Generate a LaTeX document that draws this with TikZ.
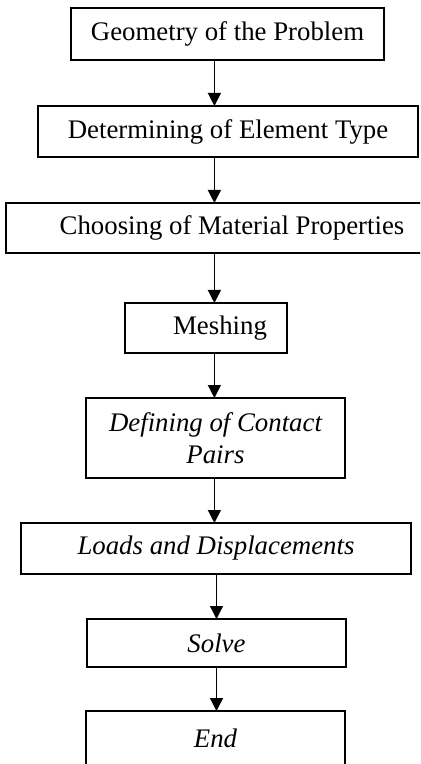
\documentclass[tikz,border=0pt]{standalone}
\usepackage{fontspec}
\setmainfont{Liberation Serif}
\usetikzlibrary{arrows.meta, positioning}
\tikzset{
    % Base Block Style
    process/.style={
        rectangle,
        draw=black,
        line width=0.8pt,
        align=center,
        inner sep=0pt,
        outer sep=0pt
    },
    % Specific Text Styles
    stepPlain/.style={process, font=\fontsize{13.4}{16}\selectfont},
    stepItalic/.style={process, font=\fontsize{13.4}{16}\selectfont\itshape},
    % Arrow Style
    arrow/.style={-{Triangle[width=6.5pt, length=6.5pt]}, line width=0.65pt}
}
\begin{document}
\begin{tikzpicture}[node distance=22.5pt]

    % --- Page frame ---
    \path[use as bounding box, clip] (0,0) rectangle (210pt,-382pt);
    \coordinate (axis) at (107.2pt,0);

    % --- Upper steps (upright text) ---
    \node (step1) [stepPlain, minimum width=156.5pt, minimum height=26pt] at (113.75pt,-17pt) {Geometry of the Problem};
    \node (step2) [stepPlain, minimum width=190pt, minimum height=25.5pt, below=23pt of step1, xshift=0.25pt] {Determining of Element Type};
    \node (step3) [stepPlain, minimum width=226pt, minimum height=25pt, below=23pt of step2, xshift=2pt] {Choosing of Material Properties};
    \node (step4) [stepPlain, minimum width=81pt, minimum height=25pt, below=25pt of step3, xshift=-13pt] {\hspace*{14pt}Meshing};

    % --- Lower steps (italic text) ---
    \node (step5) [stepItalic, minimum width=129.5pt, minimum height=40pt, below=of step4, xshift=4.75pt] {Defining of Contact\\Pairs};
    \node (step6) [stepItalic, minimum width=195pt, minimum height=25.5pt, below=of step5, xshift=0.25pt] {Loads and Displacements};
    \node (step7) [stepItalic, minimum width=129.5pt, minimum height=24pt, below=of step6, xshift=0.25pt] {Solve};
    \node (step8) [stepItalic, minimum width=129.5pt, minimum height=27pt, below=22pt of step7, xshift=-0.5pt] {End};

    % --- Arrows ---
    \draw [arrow] (step1.south -| axis) -- (step2.north -| axis);
    \draw [arrow] (step2.south -| axis) -- (step3.north -| axis);
    \draw [arrow] (step3.south -| axis) -- (step4.north -| axis);
    \draw [arrow] (step4.south -| axis) -- (step5.north -| axis);
    \draw [arrow] (step5.south -| axis) -- (step6.north -| axis);
    \draw [arrow] (step6.south -| step7) -- (step7.north);
    \draw [arrow] (step7.south) -- (step8.north -| step7);

\end{tikzpicture}
\end{document}
